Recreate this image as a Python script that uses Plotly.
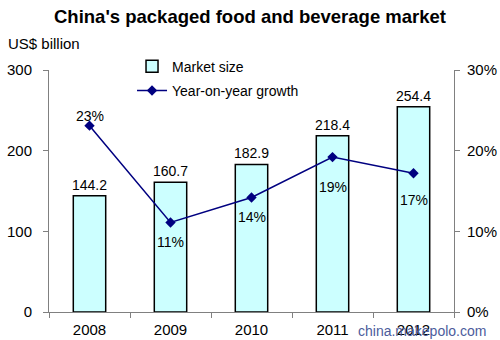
import plotly.graph_objects as go

years = ["2008", "2009", "2010", "2011", "2012"]
market_size = [144.2, 160.7, 182.9, 218.4, 254.4]
growth = [23.1, 11.1, 14.2, 19.2, 17.2]
growth_labels = ["23%", "11%", "14%", "19%", "17%"]
growth_label_shift = [10, -20, -20, -30, -27]
left_ticks = [0, 100, 200, 300]
right_ticks = [0, 10, 20, 30]
right_tick_labels = ["0%", "10%", "20%", "30%"]

FONT = "Liberation Sans, Arial, sans-serif"

fig = go.Figure()
fig.add_trace(go.Bar(
    x=years, y=market_size, name="Market size",
    marker=dict(color="#CCFFFF", line=dict(color="#000000", width=1.5)),
    width=0.4,
    text=[f"{v:.1f}" for v in market_size], textposition="outside",
    constraintext="none",
    textfont=dict(size=14, color="#000000", family=FONT),
    cliponaxis=False, legendgroup="a",
))
fig.add_trace(go.Scatter(
    x=years, y=growth, name="Year-on-year growth", yaxis="y2",
    mode="lines+markers",
    line=dict(color="#000080", width=1.5),
    marker=dict(symbol="diamond", size=8, color="#000080"),
    cliponaxis=False, legendgroup="b",
))

annotations = [
    dict(text="US$ billion", xref="paper", yref="paper", x=(6-49)/405, y=1+(70-43)/242,
         xanchor="left", yanchor="middle", showarrow=False, font=dict(size=15)),
    dict(text="china.makepolo.com", xref="paper", yref="paper", x=(488-49)/405,
         y=-(331-312)/242, xanchor="right", yanchor="middle", showarrow=False,
         font=dict(size=14, family=FONT, color="#4C5C9C")),
]
# category axis: annotation x given as category index
for idx, (g, lab, sh) in enumerate(zip(growth, growth_labels, growth_label_shift)):
    annotations.append(dict(text=lab, x=idx, y=g, xref="x", yref="y2", yshift=sh,
                            showarrow=False, xanchor="center", yanchor="middle",
                            font=dict(size=14, color="#000000")))

fig.update_layout(
    width=500, height=340,
    margin=dict(l=49, r=46, t=70, b=28, autoexpand=False),
    paper_bgcolor="white", plot_bgcolor="white",
    font=dict(family=FONT, size=15, color="#000000"),
    title=dict(text="<b>China's packaged food and beverage market</b>",
               x=0.5, xanchor="center", y=0.95, yanchor="middle",
               font=dict(size=18.5, family=FONT)),
    showlegend=True,
    legend=dict(x=0.205, y=1.08, xanchor="left", yanchor="top",
                bgcolor="rgba(0,0,0,0)", font=dict(size=14, family=FONT),
                tracegroupgap=3, itemwidth=30),
    xaxis=dict(type="category", showline=True, linecolor="#808080", linewidth=1,
               ticks="outside", tickson="boundaries", ticklen=5, tickcolor="#808080",
               showgrid=False, tickfont=dict(size=15), ticklabelstandoff=4,
               automargin=False),
    yaxis=dict(range=[0, 300], tickvals=left_ticks, showline=True, linecolor="#808080",
               linewidth=1, ticks="outside", ticklen=5, tickcolor="#808080",
               showgrid=False, zeroline=False, ticklabelstandoff=8,
               tickfont=dict(size=15), automargin=False),
    yaxis2=dict(range=[0, 30], tickvals=right_ticks, ticktext=right_tick_labels,
                overlaying="y", side="right", showline=True, linecolor="#808080",
                linewidth=1, ticks="outside", ticklen=5, tickcolor="#808080",
                showgrid=False, zeroline=False, ticklabelstandoff=4,
                tickfont=dict(size=15), automargin=False),
    annotations=annotations,
)

fig.write_html("out.html")
